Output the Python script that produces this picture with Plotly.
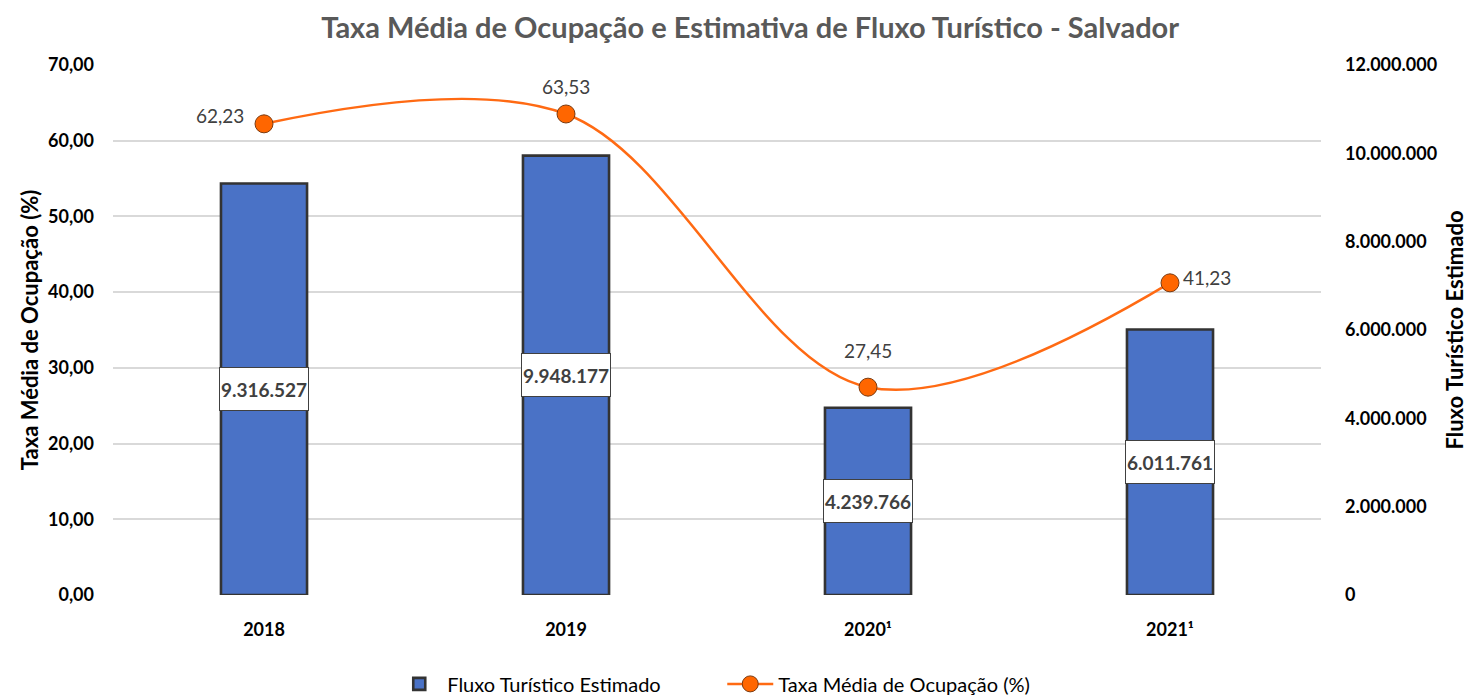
import plotly.graph_objects as go

years = ["2018", "2019", "2020¹", "2021¹"]
fluxo = [9316527, 9948177, 4239766, 6011761]
taxa = [62.23, 63.53, 27.45, 41.23]
# label offsets (px) for the occupancy-rate labels
taxa_shift = [(-44, 8), (0, 27), (0, 37), (37, 5)]

FONT = "Lato"

def fmt_thousands(v):
    return f"{v:,}".replace(",", ".")

def fmt_dec(v):
    return f"{v:.2f}".replace(".", ",")

fig = go.Figure()
fig.add_trace(go.Bar(
    x=years, y=fluxo, name="Fluxo Turístico Estimado", yaxis="y2",
    width=0.285,
    marker=dict(color="#4a72c6", line=dict(color="#333333", width=2.6)),
    hoverinfo="skip",
))
fig.add_trace(go.Scatter(
    x=years, y=taxa, name="Taxa Média de Ocupação (%)", yaxis="y",
    mode="lines+markers",
    line=dict(color="#ff6a13", width=2.5, shape="spline", smoothing=1.0),
    marker=dict(color="#ff6600", size=18, line=dict(color="#7a3a10", width=1)),
    cliponaxis=False,
))

annotations = []
for i, v in enumerate(fluxo):
    annotations.append(dict(
        x=i, y=v / 2, xref="x", yref="y2", text=f"<b>{fmt_thousands(v)}</b>",
        showarrow=False, bgcolor="white", bordercolor="#404040", borderwidth=1,
        width=88, height=42, borderpad=0,
        font=dict(family=FONT, size=19, color="#404040"),
    ))
for i, (v, (dx, dy)) in enumerate(zip(taxa, taxa_shift)):
    annotations.append(dict(
        x=i, y=v, xref="x", yref="y", text=fmt_dec(v),
        showarrow=False, xshift=dx, yshift=dy,
        font=dict(family=FONT, size=19, color="#404040"),
    ))

fig.update_layout(
    width=1468, height=695,
    paper_bgcolor="white", plot_bgcolor="white",
    separators=",.",
    margin=dict(l=113, r=147, t=65, b=100, autoexpand=False),
    title=dict(text="<b>Taxa Média de Ocupação e Estimativa de Fluxo Turístico - Salvador</b>",
               x=0.511, xanchor="center", y=0.96, yanchor="middle",
               font=dict(family=FONT, size=29, color="#595959")),
    font=dict(family=FONT, color="#000000"),
    xaxis=dict(type="category", categoryorder="array", categoryarray=years,
               range=[-0.5, len(years) - 0.5],
               showgrid=False, showline=False, ticks="",
               ticklabelstandoff=22,
               tickfont=dict(family=FONT, size=18, color="#000000", weight="bold")),
    yaxis=dict(range=[0, 70], dtick=10, tickformat=",.2f",
               showgrid=True, gridcolor="#d9d9d9", gridwidth=1.5, zeroline=False,
               tickfont=dict(family=FONT, size=18, color="#000000", weight="bold"),
               ticklabelstandoff=18,
               title=dict(text="<b>Taxa Média de Ocupação (%)</b>", standoff=3,
                          font=dict(family=FONT, size=22, color="#000000"))),
    yaxis2=dict(range=[0, 12000000], dtick=2000000, tickformat=",d",
                overlaying="y", side="right", showgrid=False, zeroline=False,
                tickfont=dict(family=FONT, size=18, color="#000000", weight="bold"),
                ticklabelstandoff=23,
                title=dict(text="<b>Fluxo Turístico Estimado</b>", standoff=14,
                           font=dict(family=FONT, size=22, color="#000000"))),
    legend=dict(orientation="h", x=0.492, xanchor="center", xref="container",
                y=0.016, yanchor="middle", yref="container",
                font=dict(family=FONT, size=20, color="#000000"), itemwidth=46,
                entrywidth=270),
    annotations=annotations,
    showlegend=True,
)

fig.write_html("out.html", config={"displayModeBar": False},
               post_script="document.body.style.margin='0';")
